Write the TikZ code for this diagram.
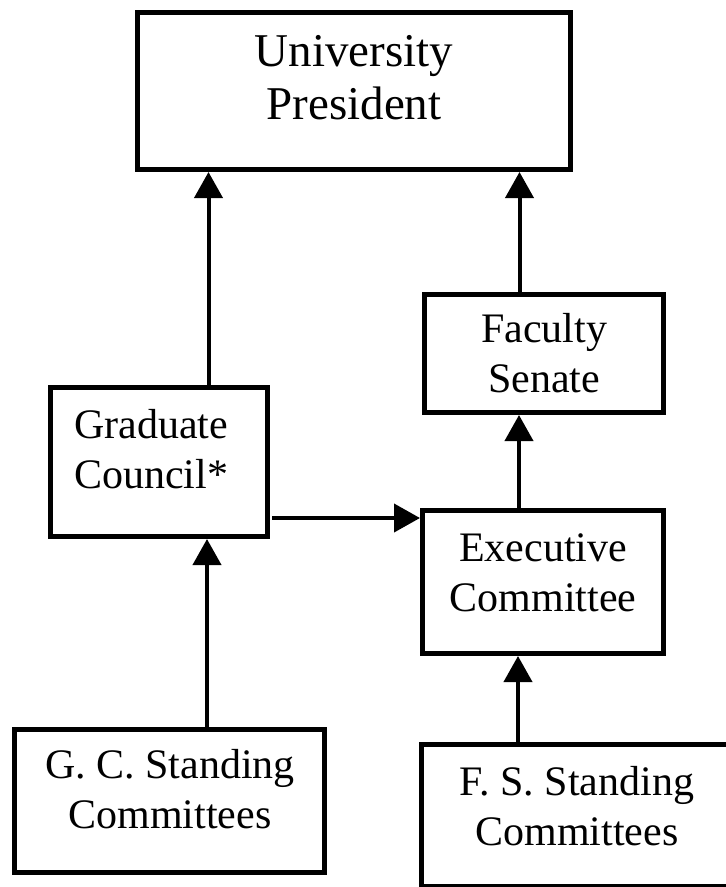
\documentclass[tikz,border=0pt]{standalone}
\usepackage{fontspec}
\setmainfont{Liberation Serif}
\usetikzlibrary{arrows.meta}
\begin{document}
\begin{tikzpicture}[x=1pt,y=-1pt,
  box/.style={draw=black, line width=5pt, rectangle, inner sep=0pt, fill=none},
  lbl/.style={align=center, inner sep=0pt, font=\fontsize{42}{50}\selectfont},
  arr/.style={line width=4pt, -{Triangle[width=28pt,length=26pt]}}]
\useasboundingbox (0,0) rectangle (726,887);
\fill[white] (0,0) rectangle (726,887);
\begin{scope}
\clip (0,0) rectangle (726,887);
% boxes
\node[box, minimum width=433pt, minimum height=157.5pt] (up) at (354,90.75) {};
\node[box, minimum width=238.5pt, minimum height=118.5pt] (fs) at (543.75,353.25) {};
\node[box, minimum width=217pt, minimum height=149pt] (gc) at (159,462) {};
\node[box, minimum width=240.5pt, minimum height=143pt] (ex) at (542.75,582) {};
\node[box, minimum width=310pt, minimum height=143pt] (gcsc) at (169.5,801) {};
\node[box, minimum width=313.5pt, minimum height=141.5pt] (fssc) at (578.25,815.25) {};
% labels
\node[lbl, font=\fontsize{47}{53}\selectfont] (upT) at (354,77.5) {University\\President};
\node[lbl] (fsT) at (544,353.5) {Faculty\\Senate};
\node[lbl] (gcT) at (151,449) {Graduate\\Council*};
\node[lbl] (exT) at (543,573) {Executive\\Committee};
\node[lbl] (gcscT) at (170,789) {G. C. Standing\\Committees};
\node[lbl] (fsscT) at (577,806) {F. S. Standing\\Committees};
% connector x positions
\coordinate (xa) at (208.5,0);
\coordinate (xb) at (519.5,0);
\coordinate (xc) at (519,0);
\coordinate (xd) at (207,0);
\coordinate (xe) at (518,0);
\coordinate (yh) at (0,518);
\coordinate (hs) at (272,518);
% connectors
\draw[arr] (gc.north -| xa) -- (up.south -| xa);
\draw[arr] (fs.north -| xb) -- (up.south -| xb);
\draw[arr] (ex.north -| xc) -- (fs.south -| xc);
\draw[arr] (gcsc.north -| xd) -- (gc.south -| xd);
\draw[arr] (fssc.north -| xe) -- (ex.south -| xe);
\draw[arr] (hs) -- (ex.west |- yh);
\end{scope}
\end{tikzpicture}
\end{document}
